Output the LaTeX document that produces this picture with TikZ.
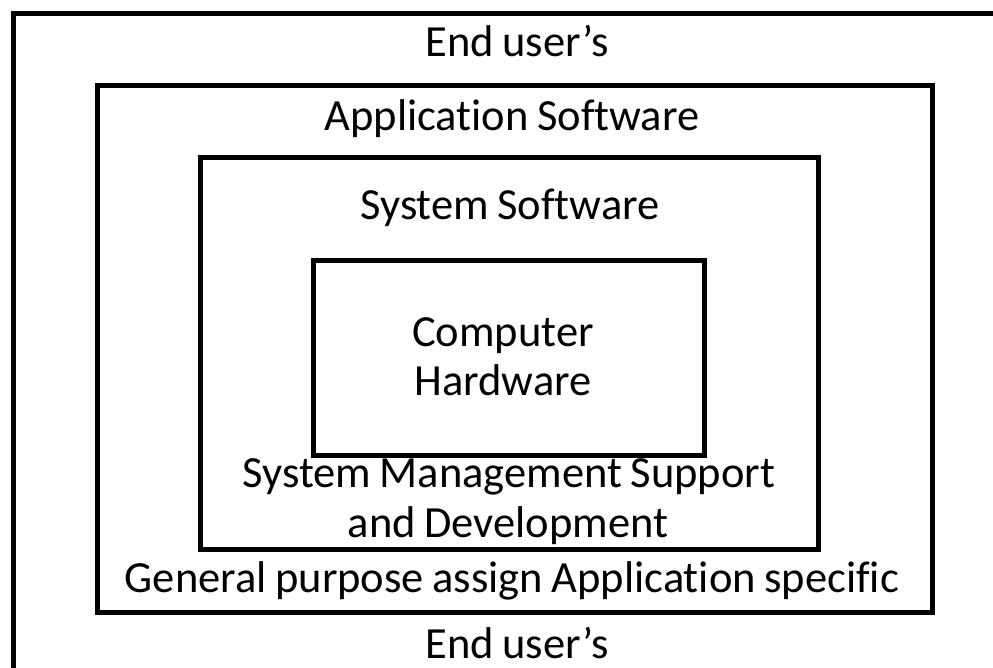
\documentclass[tikz,border=0pt]{standalone}
\usepackage{fontspec}
\setmainfont{Carlito}[Ligatures={NoCommon},WordSpace={0.85}]
\begin{document}
\begin{tikzpicture}[x=1pt,y=-1pt,
  layer/.style={draw=black,line width=5pt,fill=none,inner sep=0pt,anchor=north west},
  lbl/.style={inner sep=0pt,anchor=base,text=black,text depth=0pt,font=\fontsize{44.5}{50}\selectfont}]
\useasboundingbox (0,0) rectangle (993,667);
\fill[white] (0,0) rectangle (993,667);
\clip (0,0) rectangle (993,667);
% outermost frame runs off the right and bottom edges
\node[layer,minimum width=1020pt,minimum height=700pt] (enduser) at (11,10.5) {};
% nested layers
\node[layer,minimum width=835pt,minimum height=527pt] (app) at (94.5,82.5) {};
\node[layer,minimum width=618pt,minimum height=392pt] (sys) at (197.5,154.5) {};
\node[layer,minimum width=391pt,minimum height=195pt] (hw) at (310.5,257.5) {};
% labels
\node[lbl] (topuser) at (517,56) {End user’s};
\node[lbl] (applbl) at (512,130) {Application Software};
\node[lbl] (syslbl) at (510,219) {System Software};
\node[lbl] (hw1) at (503,346) {Computer};
\node[lbl] (hw2) at (503,395) {Hardware};
\node[lbl] (mgmt1) at (509,487) {System Management Support};
\node[lbl] (mgmt2) at (508,537) {and Development};
\node[lbl] (general) at (512,592) {General purpose assign Application specific};
\node[lbl] (botuser) at (517,658) {End user’s};
\end{tikzpicture}
\end{document}
